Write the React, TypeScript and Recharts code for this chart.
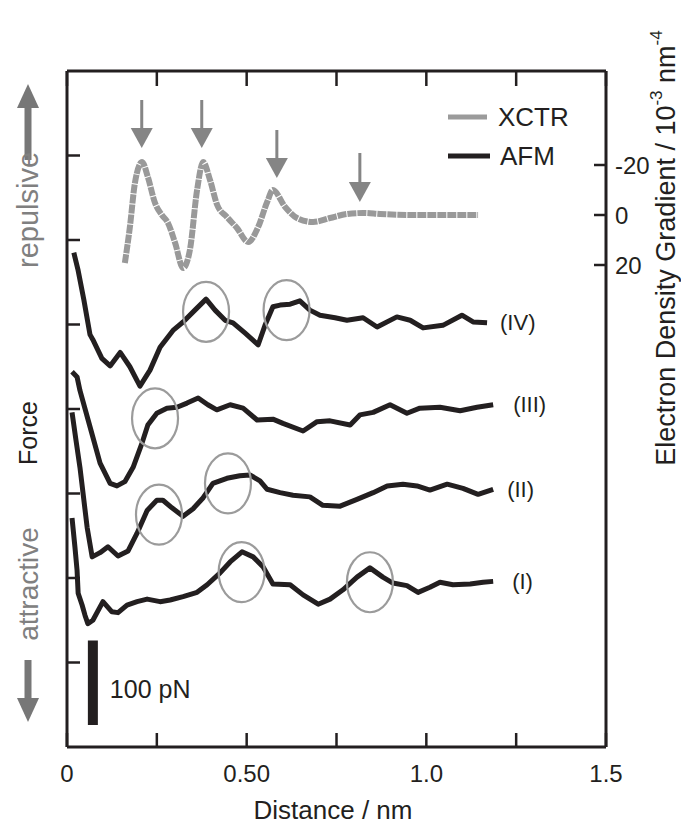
import React from "react";
import { LineChart, Line, XAxis, YAxis, ReferenceDot, ReferenceLine, Legend } from "recharts";

const ink = "#231f20";
const grey = "#9b9b9b";
const arrowGrey = "#858585";

// AFM force curves: [distance nm, force pN] (curves already stacked)
const afmI: [number, number][] = [
  [0.014, 271], [0.022, 237], [0.028, 209], [0.031, 182], [0.042, 168], [0.05, 156], [0.058, 146],
  [0.072, 150], [0.1, 172], [0.125, 160], [0.142, 159], [0.167, 168], [0.195, 172], [0.223, 175],
  [0.259, 172], [0.287, 174], [0.323, 178], [0.362, 183], [0.39, 192], [0.426, 206], [0.454, 219],
  [0.487, 231], [0.518, 225], [0.546, 213], [0.573, 193], [0.621, 192], [0.657, 180], [0.699, 169],
  [0.732, 175], [0.768, 186], [0.807, 201], [0.843, 212], [0.879, 201], [0.907, 194], [0.946, 191],
  [0.977, 183], [1.01, 189], [1.038, 195], [1.074, 192], [1.122, 193], [1.158, 195], [1.186, 196],
];
const afmII: [number, number][] = [
  [0.014, 396], [0.025, 363], [0.036, 331], [0.047, 292], [0.056, 260], [0.07, 225], [0.092, 230],
  [0.114, 237], [0.142, 226], [0.17, 232], [0.195, 253], [0.223, 280], [0.25, 292], [0.267, 292],
  [0.292, 283], [0.323, 273], [0.351, 282], [0.379, 295], [0.406, 312], [0.445, 318], [0.481, 321],
  [0.509, 322], [0.537, 315], [0.557, 305], [0.593, 301], [0.629, 298], [0.676, 296], [0.712, 286],
  [0.76, 285], [0.807, 293], [0.852, 301], [0.891, 309], [0.935, 311], [0.974, 309], [1.01, 304],
  [1.058, 311], [1.102, 306], [1.144, 299], [1.186, 305],
];
const afmIII: [number, number][] = [
  [0.014, 444], [0.028, 438], [0.036, 422], [0.064, 379], [0.092, 336], [0.12, 312], [0.139, 309],
  [0.161, 314], [0.184, 331], [0.209, 360], [0.225, 381], [0.25, 395], [0.278, 401], [0.306, 402],
  [0.334, 407], [0.365, 413], [0.392, 405], [0.417, 399], [0.454, 405], [0.49, 401], [0.529, 387],
  [0.573, 388], [0.601, 383], [0.657, 374], [0.696, 385], [0.732, 386], [0.788, 381], [0.815, 393],
  [0.852, 396], [0.899, 405], [0.946, 395], [0.982, 401], [1.038, 402], [1.094, 398], [1.141, 402],
  [1.186, 405],
];
const afmIV: [number, number][] = [
  [0.019, 585], [0.031, 564], [0.047, 529], [0.064, 488], [0.072, 482], [0.097, 460], [0.12, 451],
  [0.148, 467], [0.175, 450], [0.203, 427], [0.231, 446], [0.259, 473], [0.295, 493], [0.323, 503],
  [0.356, 517], [0.387, 530], [0.412, 517], [0.44, 505], [0.462, 502], [0.495, 490], [0.532, 476],
  [0.551, 499], [0.573, 521], [0.593, 523], [0.621, 524], [0.648, 528], [0.676, 517], [0.704, 511],
  [0.746, 508], [0.779, 505], [0.824, 508], [0.863, 497], [0.918, 509], [0.955, 505], [0.991, 496],
  [1.046, 499], [1.099, 511], [1.13, 503], [1.169, 502],
];

// XCTR electron density gradient: [distance nm, 10^-3 nm^-4]
const xctr: [number, number][] = [
  [0.161, 19.2], [0.175, 4.8], [0.189, -12.8], [0.209, -21.2], [0.225, -15.2], [0.245, -4.8],
  [0.264, 0], [0.281, 3.2], [0.301, 11.2], [0.323, 21.2], [0.342, 14], [0.362, -10], [0.379, -21.2],
  [0.398, -14], [0.418, -4], [0.445, 0.8], [0.473, 5.2], [0.504, 10.8], [0.532, 4.8], [0.557, -5.2],
  [0.573, -10], [0.607, -3.2], [0.64, 1.2], [0.685, 2.8], [0.732, 1.2], [0.779, -0.4], [0.824, -0.8],
  [0.871, -0.4], [0.963, 0], [1.058, 0], [1.144, 0],
];

const curveNames = ["(I)", "(II)", "(III)", "(IV)"];
const nameGap = [19, 14, 20, 13];

const xTicks = [0, 0.25, 0.5, 0.75, 1.0, 1.25, 1.5];
const xTickText = ["0", "", "0.50", "", "1.0", "", "1.5"];
const forceTicks = [100, 200, 300, 400, 500, 600, 700];
const edgTicks = [-20, 0, 20];

// arrows marking XCTR peaks: x nm, from / to in 10^-3 nm^-4
const peakArrows = [
  { x: 0.208, from: -46, to: -26.8 },
  { x: 0.375, from: -46, to: -26.8 },
  { x: 0.584, from: -34, to: -14.8 },
  { x: 0.815, from: -24.8, to: -5.2 },
];

// circled features: x nm, force pN
const circled = [
  { x: 0.387, f: 515 }, { x: 0.611, f: 517 }, { x: 0.245, f: 389 },
  { x: 0.256, f: 275 }, { x: 0.448, f: 312 }, { x: 0.486, f: 207 }, { x: 0.843, f: 195 },
];

const scaleBar = { x: 0.072, from: 26, to: 126, text: "100 pN" };

const legendItems = [
  { name: "XCTR", color: grey },
  { name: "AFM", color: ink },
];

const BottomTick = (p: any) => {
  const i = xTicks.indexOf(p.payload.value);
  return (
    <g>
      <line x1={p.x} x2={p.x} y1={p.y} y2={p.y - 14} stroke={ink} strokeWidth={2.5} />
      <text x={p.x} y={p.y + 35} textAnchor="middle" fontSize={24} fill={ink}>{xTickText[i]}</text>
    </g>
  );
};
const TopTick = (p: any) => (
  <line x1={p.x} x2={p.x} y1={p.y} y2={p.y + 15} stroke={ink} strokeWidth={2.5} />
);
const LeftTick = (p: any) => (
  <line x1={p.x} x2={p.x + 13} y1={p.y} y2={p.y} stroke={ink} strokeWidth={2.5} />
);
const RightTick = (p: any) => (
  <g>
    <line x1={p.x} x2={p.x - 12} y1={p.y} y2={p.y} stroke={ink} strokeWidth={2.5} />
    <text x={p.x + 9} y={p.y} dominantBaseline="central" fontSize={24} fill={ink}>{p.payload.value}</text>
  </g>
);

const ArrowDown = (p: any) => {
  const { x1, y1, y2 } = p;
  return (
    <g>
      <line x1={x1} x2={x1} y1={y1} y2={y2 - 16} stroke={arrowGrey} strokeWidth={3} />
      <polygon points={`${x1 - 11},${y2 - 20} ${x1 + 11},${y2 - 20} ${x1},${y2}`} fill={arrowGrey} />
    </g>
  );
};

export default function App() {
  const curves = [afmI, afmII, afmIII, afmIV];
  const axisLine = { stroke: ink, strokeWidth: 3 };
  return (
    <div style={{ position: "relative", width: 673, height: 811, fontFamily: '"Liberation Sans", Arial, sans-serif', color: ink }}>
      <LineChart width={673} height={811} margin={{ top: 62, right: 74, bottom: 71, left: 58 }}>
        <XAxis xAxisId="b" dataKey="d" type="number" domain={[0, 1.5]} ticks={xTicks} interval={0}
          height={1} tickSize={0} tickMargin={0} tickLine={false} tick={BottomTick} axisLine={axisLine} allowDataOverflow />
        <XAxis xAxisId="t" orientation="top" dataKey="d" type="number" domain={[0, 1.5]} ticks={xTicks} interval={0}
          height={1} tickSize={0} tickMargin={0} tickLine={false} tick={TopTick} axisLine={axisLine} allowDataOverflow />
        <YAxis yAxisId="left" type="number" domain={[0, 800]} ticks={forceTicks} interval={0}
          width={1} tickSize={0} tickMargin={0} tickLine={false} tick={LeftTick} axisLine={axisLine} allowDataOverflow />
        <YAxis yAxisId="right" orientation="right" type="number" reversed domain={[-57.6, 212.8]} ticks={edgTicks} interval={0}
          width={1} tickSize={0} tickMargin={0} tickLine={false} tick={RightTick} axisLine={axisLine} allowDataOverflow />

        <Legend layout="vertical" align="center" verticalAlign="middle"
          wrapperStyle={{ position: "absolute", left: 440, top: 88, width: 160 }}
          content={() => (
            <svg width={160} height={80}>
              {legendItems.map((it, i) => (
                <g key={it.name}>
                  <line x1={0} x2={i ? 42 : 39} y1={21 + i * 39} y2={21 + i * 39} stroke={it.color} strokeWidth={5} />
                  <text x={i ? 52 : 50} y={21 + i * 39} dominantBaseline="central" fontSize={26} fill={ink}>{it.name}</text>
                </g>
              ))}
            </svg>
          )}
        />

        <Line xAxisId="t" yAxisId="right" data={xctr.map(([d, g]) => ({ d, g }))} dataKey="g" type="monotone"
          stroke="#999" strokeWidth={6} strokeDasharray="9 1" dot={false} activeDot={false} isAnimationActive={false} />

        {curves.map((c, i) => (
          <Line key={curveNames[i]} xAxisId="b" yAxisId="left" data={c.map(([d, f]) => ({ d, f }))} dataKey="f" type="linear"
            stroke={ink} strokeWidth={5} strokeLinejoin="round" dot={false} activeDot={false} isAnimationActive={false} />
        ))}

        {curves.map((c, i) => (
          <ReferenceDot key={"n" + i} xAxisId="b" yAxisId="left" x={c[c.length - 1][0]} y={c[c.length - 1][1]}
            shape={(p: any) => (
              <text x={p.cx + nameGap[i]} y={p.cy} dominantBaseline="central" fontSize={22} fill={ink}>{curveNames[i]}</text>
            )} />
        ))}

        {circled.map((c, i) => (
          <ReferenceDot key={"c" + i} xAxisId="b" yAxisId="left" x={c.x} y={c.f}
            shape={(p: any) => <ellipse cx={p.cx} cy={p.cy} rx={23} ry={30} fill="none" stroke={grey} strokeWidth={2.2} />} />
        ))}

        {peakArrows.map((a, i) => (
          <ReferenceLine key={"a" + i} xAxisId="t" yAxisId="right" segment={[{ x: a.x, y: a.from }, { x: a.x, y: a.to }]}
            shape={ArrowDown} />
        ))}

        <ReferenceLine xAxisId="b" yAxisId="left" segment={[{ x: scaleBar.x, y: scaleBar.from }, { x: scaleBar.x, y: scaleBar.to }]}
          shape={(p: any) => (
            <g>
              <line x1={p.x1} x2={p.x2} y1={p.y1} y2={p.y2} stroke={ink} strokeWidth={10} />
              <text x={p.x1 + 17} y={(p.y1 + p.y2) / 2 + 6} dominantBaseline="central" fontSize={25} fill={ink}>{scaleBar.text}</text>
            </g>
          )} />
      </LineChart>

      <svg width={673} height={811} style={{ position: "absolute", left: 0, top: 0, pointerEvents: "none", overflow: "visible" }}>
        <line x1={20} x2={20} y1={152} y2={96} stroke="#777" strokeWidth={7} />
        <polygon points="9,100 31,100 20,76" fill="#777" />
        <line x1={20} x2={20} y1={652} y2={694} stroke="#777" strokeWidth={7} />
        <polygon points="9,690 31,690 20,714" fill="#777" />
        <text transform="translate(20,202) rotate(-90)" textAnchor="middle" dominantBaseline="central" fontSize={29} fill="#808080">repulsive</text>
        <text transform="translate(20,425) rotate(-90)" textAnchor="middle" dominantBaseline="central" fontSize={25} fill={ink}>Force</text>
        <text transform="translate(20,576) rotate(-90)" textAnchor="middle" dominantBaseline="central" fontSize={28} fill="#808080">attractive</text>
        <text x={325} y={802} textAnchor="middle" dominantBaseline="central" fontSize={26} fill={ink}>Distance / nm</text>
        <text transform="translate(658,240) rotate(-90)" textAnchor="middle" dominantBaseline="central" fontSize={27} fill={ink}>
          Electron Density Gradient / 10<tspan fontSize={17} dy={-10}>-3</tspan><tspan dy={10}> nm</tspan><tspan fontSize={17} dy={-10}>-4</tspan>
        </text>
      </svg>
    </div>
  );
}
